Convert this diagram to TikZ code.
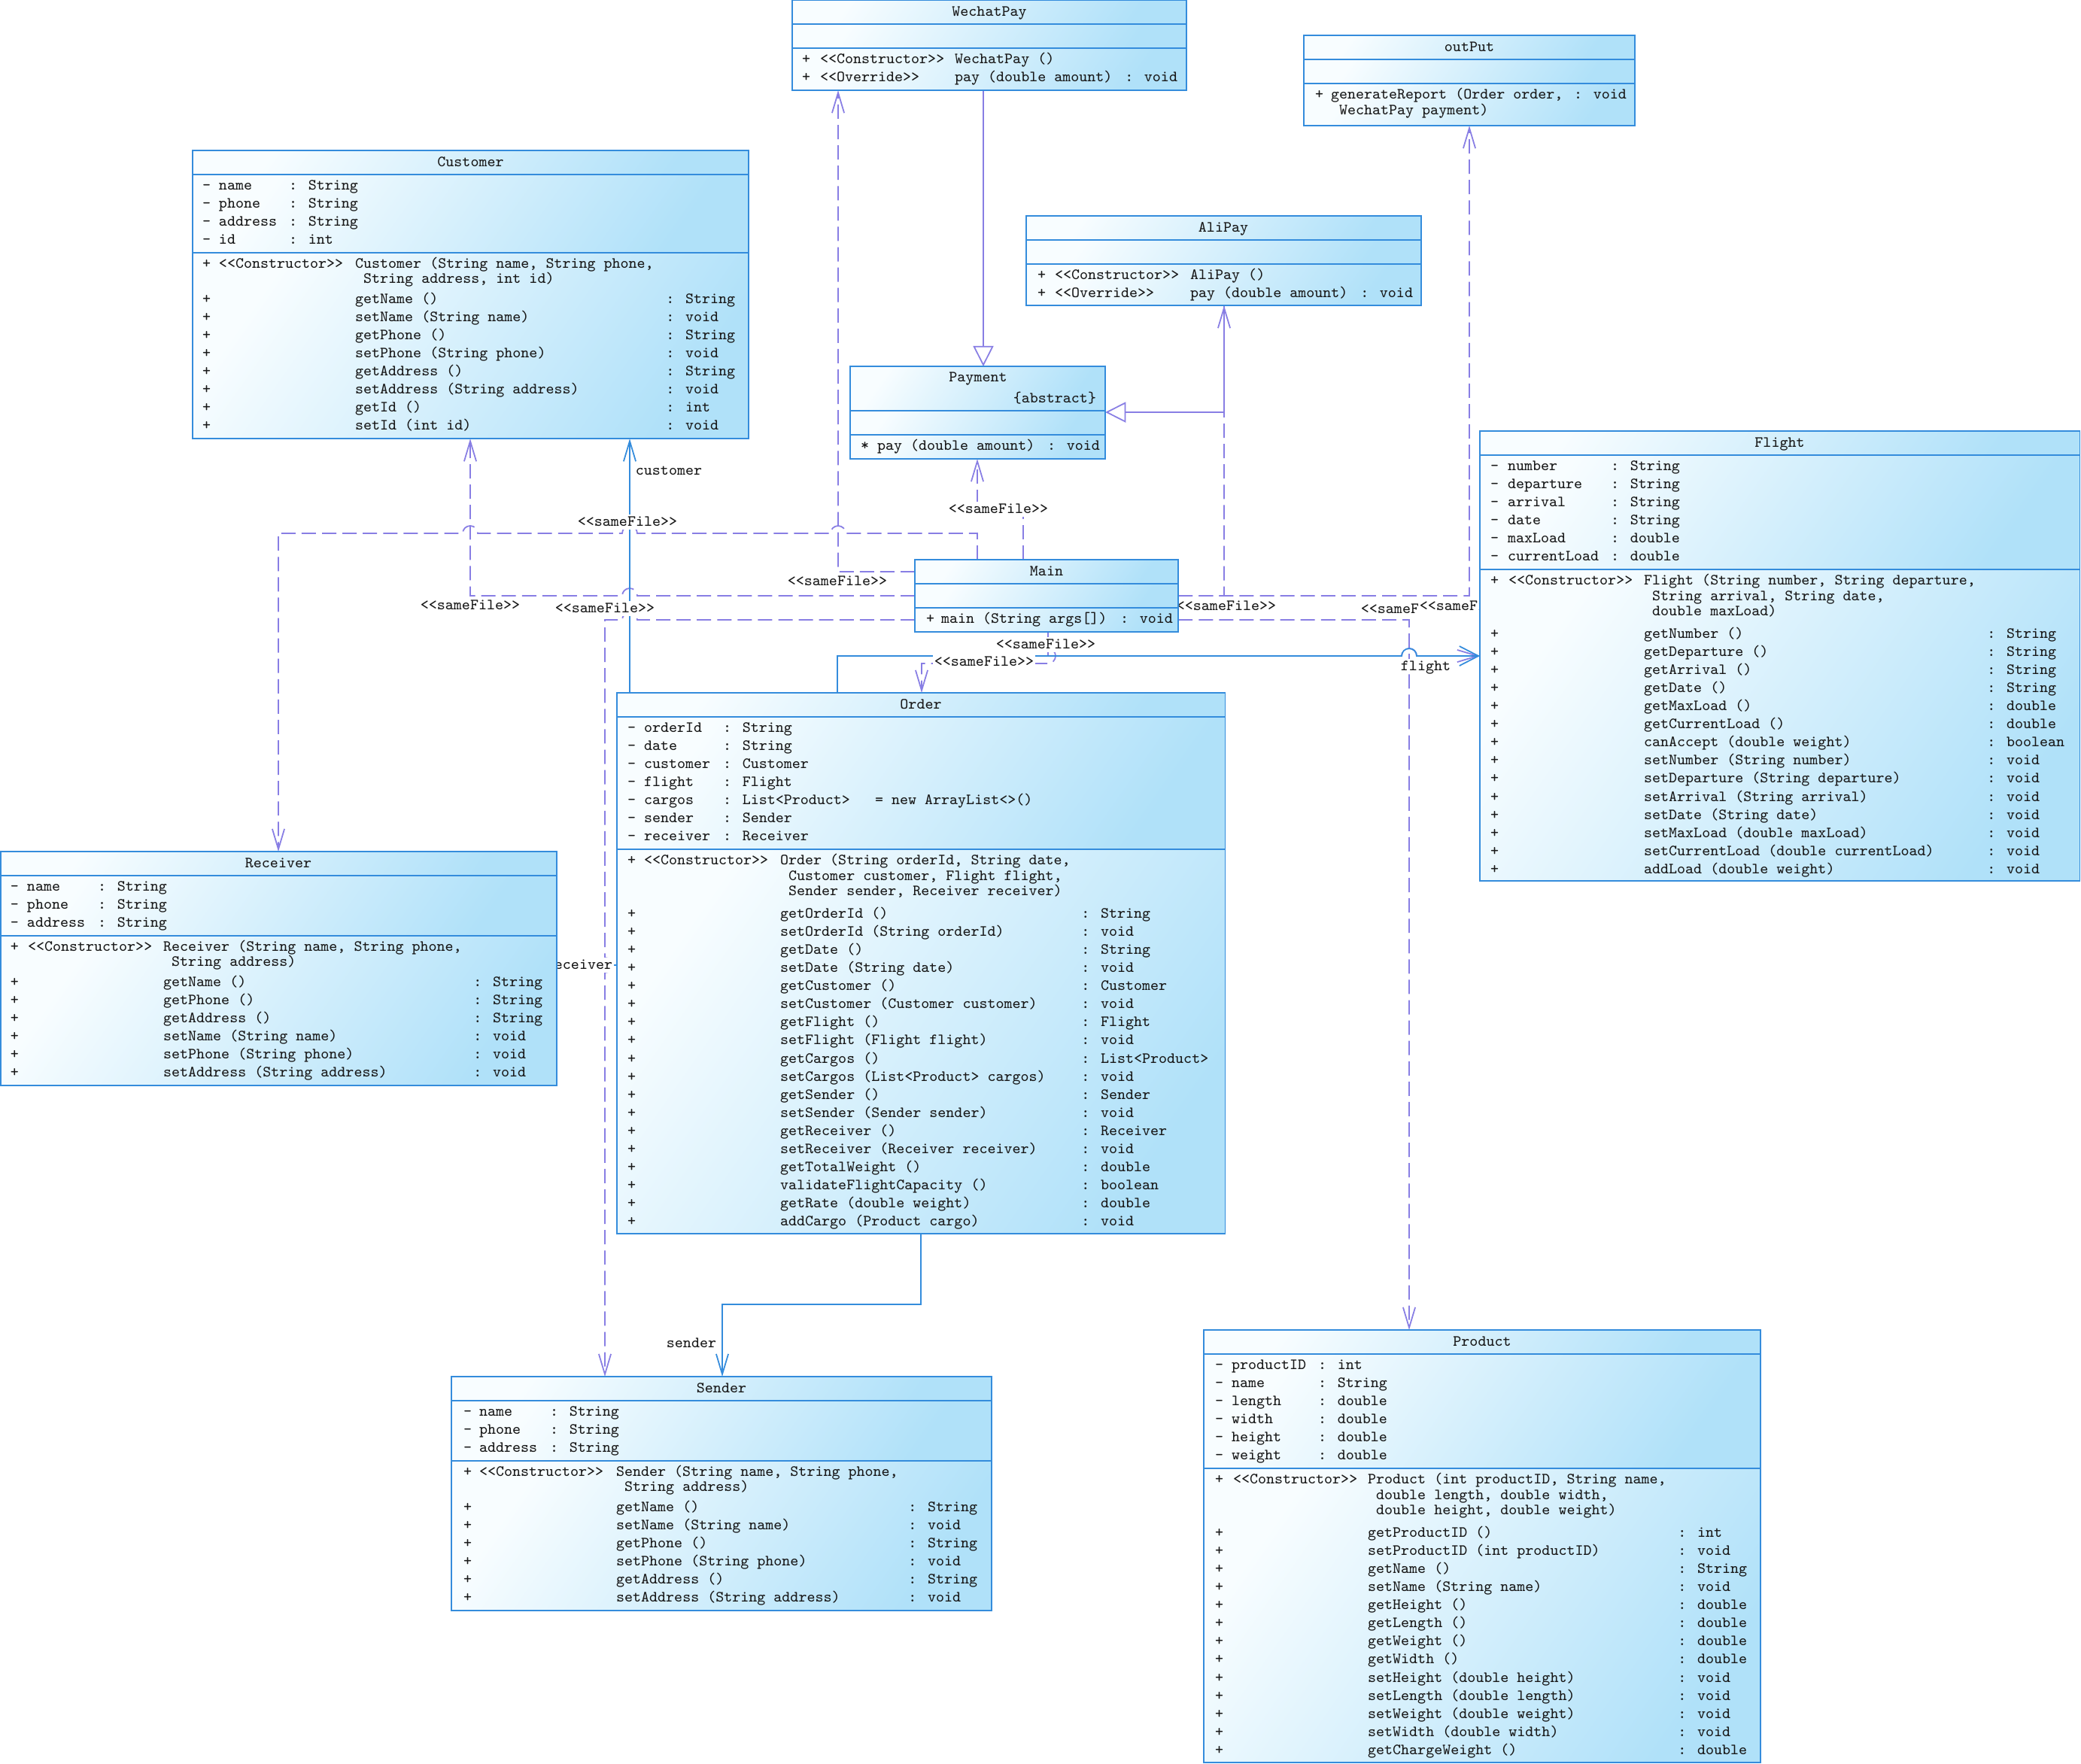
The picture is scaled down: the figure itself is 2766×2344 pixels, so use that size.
\documentclass[tikz,border=0pt]{standalone}
\usepackage{fontspec}
\usetikzlibrary{arrows.meta,backgrounds}
\definecolor{bordc}{RGB}{52,140,220}
\definecolor{depc}{RGB}{136,126,228}
\definecolor{gradA}{RGB}{248,253,255}
\definecolor{gradB}{RGB}{176,225,249}
\newlength\pxu \setlength\pxu{0.01cm}
\setlength\tabcolsep{0pt}
\newcommand\umlfont{\fontsize{5.9pt}{6.829pt}\selectfont\ttfamily}
\tikzset{
  x=0.01cm, y=-0.01cm,
  comp/.style={draw=bordc, line width=0.55pt, inner sep=0pt, outer sep=0pt, anchor=north west,
    top color=gradA, bottom color=gradB, shading angle=55},
  txt/.style={inner sep=0pt, outer sep=0pt, anchor=north west, font=\umlfont, text=black!90},
  ttl/.style={inner sep=0pt, outer sep=0pt, anchor=base, font=\umlfont, text=black!90},
  lbl/.style={font=\umlfont, text=black!90, fill=white, inner xsep=0.6pt, inner ysep=0pt, text height=4.3pt, text depth=1.3pt},
  depline/.style={draw=depc, line width=0.5pt, dash pattern=on 5.4pt off 2.3pt, -{Straight Barb[length=7.7pt,width=4.6pt]}},
  assoc/.style={draw=bordc, line width=0.5pt, -{Straight Barb[length=7.7pt,width=4.6pt]}},
  wideassoc/.style={draw=bordc, line width=0.5pt, -{Straight Barb[length=7.2pt,width=7.4pt]}},
  genl/.style={draw=depc, line width=0.5pt, -{Triangle[length=7.7pt,width=7.7pt,fill=white]}},
}
\begin{document}
\begin{tikzpicture}
\useasboundingbox (0,0) rectangle (2766,2344);

% ---------------- WechatPay
\node[comp, minimum width=52.4mm, minimum height=3.2mm] (wech) at (1053,0) {};
\node[comp, minimum width=52.4mm, minimum height=3.2mm] (wech-a) at (1053,32) {};
\node[comp, minimum width=52.4mm, minimum height=5.6mm] (wech-m) at (1053,64) {};
\node[ttl] (wech-t) at (1315,21) {WechatPay};
\node[txt] (wech-mt) at (1066,68) {\begin{tabular}[t]{p{2.4mm}p{17.9mm}p{22.6mm}l}
+ & <<Constructor>> & WechatPay () & \\
+ & <<Override>> & pay (double amount) & : void
\end{tabular}};

% ---------------- outPut
\node[comp, minimum width=44mm, minimum height=3.2mm] (out) at (1733,47) {};
\node[comp, minimum width=44mm, minimum height=3.2mm] (out-a) at (1733,79) {};
\node[comp, minimum width=44mm, minimum height=5.6mm] (out-m) at (1733,111) {};
\node[ttl] (out-t) at (1953,68) {outPut};
\node[txt] (out-mt) at (1748,115) {\begin{tabular}[t]{p{2.1mm}p{32.3mm}l}
+ & generateReport (Order order, & : void \\[-3\pxu]
 & ~WechatPay payment) &
\end{tabular}};

% ---------------- AliPay
\node[comp, minimum width=52.5mm, minimum height=3.2mm] (ali) at (1364,287) {};
\node[comp, minimum width=52.5mm, minimum height=3.2mm] (ali-a) at (1364,319) {};
\node[comp, minimum width=52.5mm, minimum height=5.5mm] (ali-m) at (1364,351) {};
\node[ttl] (ali-t) at (1626,308) {AliPay};
\node[txt] (ali-mt) at (1379,355) {\begin{tabular}[t]{p{2.3mm}p{18.0mm}p{22.6mm}l}
+ & <<Constructor>> & AliPay () & \\
+ & <<Override>> & pay (double amount) & : void
\end{tabular}};

% ---------------- Payment
\node[comp, minimum width=33.9mm, minimum height=5.9mm] (pay) at (1130,487) {};
\node[comp, minimum width=33.9mm, minimum height=3.2mm] (pay-a) at (1130,546) {};
\node[comp, minimum width=33.9mm, minimum height=3.2mm] (pay-m) at (1130,578) {};
\node[ttl] (pay-t) at (1300,507) {Payment};
\node[ttl, anchor=base east] (pay-abs) at (1457,535) {\{abstract\}};
\node[txt] (pay-mt) at (1144,582) {\begin{tabular}[t]{p{2.2mm}p{22.6mm}l}
* & pay (double amount) & : void
\end{tabular}};

% ---------------- Customer
\node[comp, minimum width=73.9mm, minimum height=3.2mm] (cust) at (256,200) {};
\node[comp, minimum width=73.9mm, minimum height=10.4mm] (cust-a) at (256,232) {};
\node[comp, minimum width=73.9mm, minimum height=24.7mm] (cust-m) at (256,336) {};
\node[ttl] (cust-t) at (625.5,221) {Customer};
\node[txt] (cust-at) at (269,236) {\begin{tabular}[t]{p{2.2mm}p{9.3mm}l}
- & name & : String \\
- & phone & : String \\
- & address & : String \\
- & id & : int
\end{tabular}};
\node[txt] (cust-mt) at (269,340) {\begin{tabular}[t]{p{2.2mm}p{18.1mm}p{41.3mm}l}
+ & <<Constructor>> & Customer (String name, String phone, & \\[-4\pxu]
 & & ~String address, int id) & \\[3\pxu]
+ & & getName () & : String \\
+ & & setName (String name) & : void \\
+ & & getPhone () & : String \\
+ & & setPhone (String phone) & : void \\
+ & & getAddress () & : String \\
+ & & setAddress (String address) & : void \\
+ & & getId () & : int \\
+ & & setId (int id) & : void
\end{tabular}};

% ---------------- Main
\node[comp, minimum width=35mm, minimum height=3.2mm] (main) at (1216,744) {};
\node[comp, minimum width=35mm, minimum height=3.2mm] (main-a) at (1216,776) {};
\node[comp, minimum width=35mm, minimum height=3.2mm] (main-m) at (1216,808) {};
\node[ttl] (main-t) at (1391,765) {Main};
\node[txt] (main-mt) at (1231,812) {\begin{tabular}[t]{p{2.0mm}p{23.8mm}l}
+ & main (String args[]) & : void
\end{tabular}};

% ---------------- Flight
\node[comp, minimum width=79.7mm, minimum height=3.2mm] (flight) at (1967,573) {};
\node[comp, minimum width=79.7mm, minimum height=15.2mm] (flight-a) at (1967,605) {};
\node[comp, minimum width=79.7mm, minimum height=41.4mm] (flight-m) at (1967,757) {};
\node[ttl] (flight-t) at (2365.5,594) {Flight};
\node[txt] (flight-at) at (1981,609) {\begin{tabular}[t]{p{2.3mm}p{13.7mm}l}
- & number & : String \\
- & departure & : String \\
- & arrival & : String \\
- & date & : String \\
- & maxLoad & : double \\
- & currentLoad & : double
\end{tabular}};
\node[txt] (flight-mt) at (1981,761) {\begin{tabular}[t]{p{2.4mm}p{18.0mm}p{45.6mm}l}
+ & <<Constructor>> & Flight (String number, String departure, & \\[-3.5\pxu]
 & & ~String arrival, String date, & \\[-3.5\pxu]
 & & ~double maxLoad) & \\[6\pxu]
+ & & getNumber () & : String \\
+ & & getDeparture () & : String \\
+ & & getArrival () & : String \\
+ & & getDate () & : String \\
+ & & getMaxLoad () & : double \\
+ & & getCurrentLoad () & : double \\
+ & & canAccept (double weight) & : boolean \\
+ & & setNumber (String number) & : void \\
+ & & setDeparture (String departure) & : void \\
+ & & setArrival (String arrival) & : void \\
+ & & setDate (String date) & : void \\
+ & & setMaxLoad (double maxLoad) & : void \\
+ & & setCurrentLoad (double currentLoad) & : void \\
+ & & addLoad (double weight) & : void
\end{tabular}};

% ---------------- Order
\node[comp, minimum width=80.8mm, minimum height=3.2mm] (ord) at (820,921) {};
\node[comp, minimum width=80.8mm, minimum height=17.6mm] (ord-a) at (820,953) {};
\node[comp, minimum width=80.8mm, minimum height=51.1mm] (ord-m) at (820,1129) {};
\node[ttl] (ord-t) at (1224,942) {Order};
\node[txt] (ord-at) at (834,957) {\begin{tabular}[t]{p{2.2mm}p{10.5mm}l}
- & orderId & : String \\
- & date & : String \\
- & customer & : Customer \\
- & flight & : Flight \\
- & cargos & : List<Product>~~~= new ArrayList<>() \\
- & sender & : Sender \\
- & receiver & : Receiver
\end{tabular}};
\node[txt] (ord-mt) at (834,1133) {\begin{tabular}[t]{p{2.2mm}p{18.1mm}p{40.0mm}l}
+ & <<Constructor>> & Order (String orderId, String date, & \\[-3.5\pxu]
 & & ~Customer customer, Flight flight, & \\[-3.5\pxu]
 & & ~Sender sender, Receiver receiver) & \\[6\pxu]
+ & & getOrderId () & : String \\
+ & & setOrderId (String orderId) & : void \\
+ & & getDate () & : String \\
+ & & setDate (String date) & : void \\
+ & & getCustomer () & : Customer \\
+ & & setCustomer (Customer customer) & : void \\
+ & & getFlight () & : Flight \\
+ & & setFlight (Flight flight) & : void \\
+ & & getCargos () & : List<Product> \\
+ & & setCargos (List<Product> cargos) & : void \\
+ & & getSender () & : Sender \\
+ & & setSender (Sender sender) & : void \\
+ & & getReceiver () & : Receiver \\
+ & & setReceiver (Receiver receiver) & : void \\
+ & & getTotalWeight () & : double \\
+ & & validateFlightCapacity () & : boolean \\
+ & & getRate (double weight) & : double \\
+ & & addCargo (Product cargo) & : void
\end{tabular}};

% ---------------- Receiver
\node[comp, minimum width=73.9mm, minimum height=3.2mm] (recv) at (1,1132) {};
\node[comp, minimum width=73.9mm, minimum height=8.0mm] (recv-a) at (1,1164) {};
\node[comp, minimum width=73.9mm, minimum height=19.9mm] (recv-m) at (1,1244) {};
\node[ttl] (recv-t) at (370,1153) {Receiver};
\node[txt] (recv-at) at (14,1168) {\begin{tabular}[t]{p{2.2mm}p{9.4mm}l}
- & name & : String \\
- & phone & : String \\
- & address & : String
\end{tabular}};
\node[txt] (recv-mt) at (14,1248) {\begin{tabular}[t]{p{2.3mm}p{18.0mm}p{41.2mm}l}
+ & <<Constructor>> & Receiver (String name, String phone, & \\[-4\pxu]
 & & ~String address) & \\[3\pxu]
+ & & getName () & : String \\
+ & & getPhone () & : String \\
+ & & getAddress () & : String \\
+ & & setName (String name) & : void \\
+ & & setPhone (String phone) & : void \\
+ & & setAddress (String address) & : void
\end{tabular}};

% ---------------- Sender
\node[comp, minimum width=71.8mm, minimum height=3.2mm] (send) at (600,1830) {};
\node[comp, minimum width=71.8mm, minimum height=8.0mm] (send-a) at (600,1862) {};
\node[comp, minimum width=71.8mm, minimum height=19.9mm] (send-m) at (600,1942) {};
\node[ttl] (send-t) at (959,1851) {Sender};
\node[txt] (send-at) at (616,1866) {\begin{tabular}[t]{p{2.1mm}p{9.4mm}l}
- & name & : String \\
- & phone & : String \\
- & address & : String
\end{tabular}};
\node[txt] (send-mt) at (616,1946) {\begin{tabular}[t]{p{2.1mm}p{18.2mm}p{38.8mm}l}
+ & <<Constructor>> & Sender (String name, String phone, & \\[-4\pxu]
 & & ~String address) & \\[3\pxu]
+ & & getName () & : String \\
+ & & setName (String name) & : void \\
+ & & getPhone () & : String \\
+ & & setPhone (String phone) & : void \\
+ & & getAddress () & : String \\
+ & & setAddress (String address) & : void
\end{tabular}};

% ---------------- Product
\node[comp, minimum width=74mm, minimum height=3.2mm] (prod) at (1600,1768) {};
\node[comp, minimum width=74mm, minimum height=15.2mm] (prod-a) at (1600,1800) {};
\node[comp, minimum width=74mm, minimum height=39.1mm] (prod-m) at (1600,1952) {};
\node[ttl] (prod-t) at (1970,1789) {Product};
\node[txt] (prod-at) at (1615,1804) {\begin{tabular}[t]{p{2.2mm}p{11.5mm}l}
- & productID & : int \\
- & name & : String \\
- & length & : double \\
- & width & : double \\
- & height & : double \\
- & weight & : double
\end{tabular}};
\node[txt] (prod-mt) at (1615,1956) {\begin{tabular}[t]{p{2.4mm}p{17.9mm}p{41.2mm}l}
+ & <<Constructor>> & Product (int productID, String name, & \\[-3.5\pxu]
 & & ~double length, double width, & \\[-3.5\pxu]
 & & ~double height, double weight) & \\[6\pxu]
+ & & getProductID () & : int \\
+ & & setProductID (int productID) & : void \\
+ & & getName () & : String \\
+ & & setName (String name) & : void \\
+ & & getHeight () & : double \\
+ & & getLength () & : double \\
+ & & getWeight () & : double \\
+ & & getWidth () & : double \\
+ & & setHeight (double height) & : void \\
+ & & setLength (double length) & : void \\
+ & & setWeight (double weight) & : void \\
+ & & setWidth (double width) & : void \\
+ & & getChargeWeight () & : double
\end{tabular}};

% ---------------- connectors
\begin{scope}[on background layer]
\fill[white] (0,0) rectangle (2766,2344);
% Main -> AliPay, outPut, Product
\draw[depline] (main-a.east) -- (1627,792) -- (1627,0 |- ali-m.south);
\draw[depline] (main-a.east) -- (1953,792) -- (1953,0 |- out-m.south);
\draw[depline] (main-m.east) -- (1873,824) -- (1873,0 |- prod.north);
% generalizations
\draw[genl] (1627,0 |- ali-m.south) -- (1627,548) -- (pay.east |- 0,548);
\draw[genl] (1307,0 |- wech-m.south) -- (1307,0 |- pay.north);
% Main -> WechatPay
\draw[depline] (main.west) -- (1114,760) -- (1114,0 |- wech-m.south);
% Main -> Payment
\draw[depline] (1360,0 |- main.north) -- (1360,677) -- (1299,677) -- (1299,0 |- pay-m.south);
% Main -> Receiver
\draw[depline] (1299,0 |- main.north) -- (1299,709) -- (1124,709)
  arc[start angle=0,end angle=180,radius=1mm] -- (847,709)
  arc[start angle=0,end angle=180,radius=1mm] -- (635,709)
  arc[start angle=0,end angle=180,radius=1mm] -- (370,709) -- (370,0 |- recv.north);
% Main -> Customer
\draw[depline] (main-a.west) -- (847,792) arc[start angle=0,end angle=180,radius=1mm]
  -- (625,792) -- (625,0 |- cust-m.south);
% Main -> Sender
\draw[depline] (main-m.west) -- (847,824) arc[start angle=0,end angle=180,radius=1mm]
  -- (804,824) -- (804,1273) arc[start angle=90,end angle=-90,radius=1mm] -- (804,0 |- send.north);
% Main -> Flight
\draw[depline] (1393,0 |- main-m.south) -- (1393,872) -- (1863,872)
  arc[start angle=180,end angle=0,radius=1mm] -- (flight-m.west |- 0,872);
% Main -> Order
\draw[depline] (1393,0 |- main-m.south) -- (1393,862)
  arc[start angle=90,end angle=-90,radius=1mm] -- (1225,882) -- (1225,0 |- ord.north);
% associations
\draw[assoc] (837,0 |- ord.north) -- (837,0 |- cust-m.south);
\draw[wideassoc] (1113,0 |- ord.north) -- (1113,872) -- (1863,872)
  arc[start angle=180,end angle=0,radius=1mm] -- (flight-m.west |- 0,872);
\draw[assoc] (1224,0 |- ord-m.south) -- (1224,1734) -- (960,1734) -- (960,0 |- send.north);
\draw[assoc] (ord-m.west |- 0,1283) -- (recv-m.east |- 0,1283);
% labels
\node[lbl] (l-pay) at (1327,677) {<<sameFile>>};
\node[lbl] (l-recv) at (834,694) {<<sameFile>>};
\node[lbl] (l-wech) at (1113,773) {<<sameFile>>};
\node[lbl] (l-cust) at (625,805) {<<sameFile>>};
\node[lbl] (l-send) at (804,809) {<<sameFile>>};
\node[lbl] (l-ali) at (1630,806) {<<sameFile>>};
\node[lbl] (l-prod) at (1875,810) {<<sameFile>>};
\node[lbl] (l-out) at (1953,806) {<<sameFile>>};
\node[lbl] (l-flight) at (1390,857) {<<sameFile>>};
\node[lbl] (l-ord) at (1308,880) {<<sameFile>>};
\node[lbl] (a-cust) at (889,626) {customer};
\node[lbl] (a-flight) at (1895,886) {flight};
\node[lbl] (a-send) at (919,1786) {sender};
\node[lbl] (a-recv) at (770,1283) {receiver};
\end{scope}
\end{tikzpicture}
\end{document}
